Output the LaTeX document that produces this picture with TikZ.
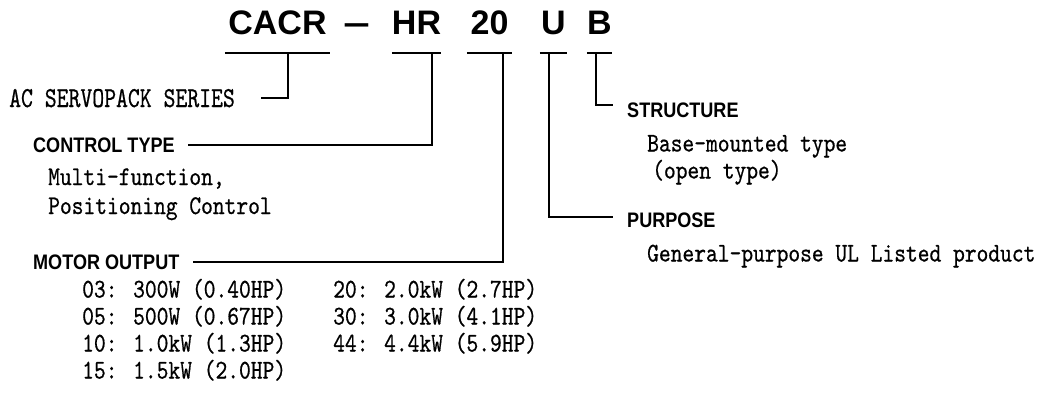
\documentclass[tikz,border=0pt]{standalone}
\usepackage{fontspec}
\usepackage{tikz}
\usetikzlibrary{
  positioning,
  calc
}
\setsansfont{Liberation Sans}
\newfontfamily\headfont{Liberation Sans}[FakeStretch=0.86]
\newfontfamily\descfont{lmmono10-regular.otf}[FakeStretch=0.83, FakeBold=0.6]
\newfontfamily\seriesfont{lmmono10-regular.otf}[FakeStretch=0.78, FakeBold=0.6]
\tikzset{
  codepart/.style={
    font=\sffamily\bfseries\fontsize{34}{38}\selectfont,
    inner xsep=0pt, inner ysep=9pt, text height=23pt, text depth=9pt, anchor=base
  },
  typelabel/.style={font=\headfont\bfseries\fontsize{21}{24}\selectfont, inner sep=0pt, anchor=base west},
  typedesc/.style={font=\descfont\fontsize{27}{30}\selectfont, inner sep=0pt, anchor=base west},
  leader/.style={line width=1.8pt, black}
}

\begin{document}
\begin{tikzpicture}[x=1pt, y=1pt]
  \useasboundingbox (0,0) rectangle (1056,400);

  % model code
  \node[codepart, minimum width=105pt] (cacr) at (277.5,365) {CACR};
  \node[codepart] (dash) at (356.5,365) {\scalebox{1.4}[1]{–}};
  \node[codepart, minimum width=43pt] (hr) at (416.5,365) {HR};
  \node[codepart, minimum width=45pt] (kw) at (489.5,365) {20};
  \node[codepart, minimum width=27pt] (ul) at (553.5,365) {U};
  \node[codepart, minimum width=25pt] (st) at (599.5,365) {B};

  % left side
  \node[typedesc, font=\seriesfont\fontsize{29}{30}\selectfont] (series) at (9,293) {AC SERVOPACK SERIES};
  \node[typelabel] (ctrl) at (33,248) {CONTROL TYPE};
  \node[typedesc, below right=33pt and 15pt of ctrl.base west, anchor=base west] (multi) {Multi-function,};
  \node[typedesc, below=29pt of multi.base west, anchor=base west] (posi) {Positioning Control};
  \node[typelabel] (mot) at (33,131) {MOTOR OUTPUT};
  \node[typedesc, below right=28.5pt and 49pt of mot.base west, anchor=base west] (r03) {03: 300W (0.40HP)};
  \node[typedesc, below=27pt of r03.base west, anchor=base west] (r05) {05: 500W (0.67HP)};
  \node[typedesc, below=27pt of r05.base west, anchor=base west] (r10) {10: 1.0kW (1.3HP)};
  \node[typedesc, below=27pt of r10.base west, anchor=base west] (r15) {15: 1.5kW (2.0HP)};
  \node[typedesc, right=251pt of r03.base west, anchor=base west] (r20) {20: 2.0kW (2.7HP)};
  \node[typedesc, below=27pt of r20.base west, anchor=base west] (r30) {30: 3.0kW (4.1HP)};
  \node[typedesc, below=27pt of r30.base west, anchor=base west] (r44) {44: 4.4kW (5.9HP)};

  % right side
  \node[typelabel] (str) at (627,283) {STRUCTURE};
  \node[typedesc, below right=34.5pt and 20pt of str.base west, anchor=base west] (bm) {Base-mounted type};
  \node[typedesc, below right=27pt and 5pt of bm.base west, anchor=base west] (open) {(open type)};
  \node[typelabel] (pur) at (627,173) {PURPOSE};
  \node[typedesc, below right=34.5pt and 20pt of pur.base west, anchor=base west] (gp) {General-purpose UL Listed product};

  % underlines
  \draw[leader] (cacr.south west) -- (cacr.south east);
  \draw[leader] (hr.south west) -- (hr.south east);
  \draw[leader] (kw.south west) -- (kw.south east);
  \draw[leader] (ul.south west) -- (ul.south east);
  \draw[leader] (st.south west) -- (st.south east);

  % leaders
  \draw[leader] ($(cacr.south west)!0.6!(cacr.south east)$) |- ([xshift=26pt]series.east);
  \draw[leader] ($(hr.south west)!0.81!(hr.south east)$) |- ([xshift=13pt]ctrl.east);
  \draw[leader] ($(kw.south west)!0.8!(kw.south east)$) |- ([xshift=13pt]mot.east);
  \draw[leader] ($(ul.south west)!0.33!(ul.south east)$) |- ([xshift=-14pt, yshift=3pt]pur.west);
  \draw[leader] ($(st.south west)!0.36!(st.south east)$) |- ([xshift=-14pt, yshift=5pt]str.west);
\end{tikzpicture}
\end{document}
